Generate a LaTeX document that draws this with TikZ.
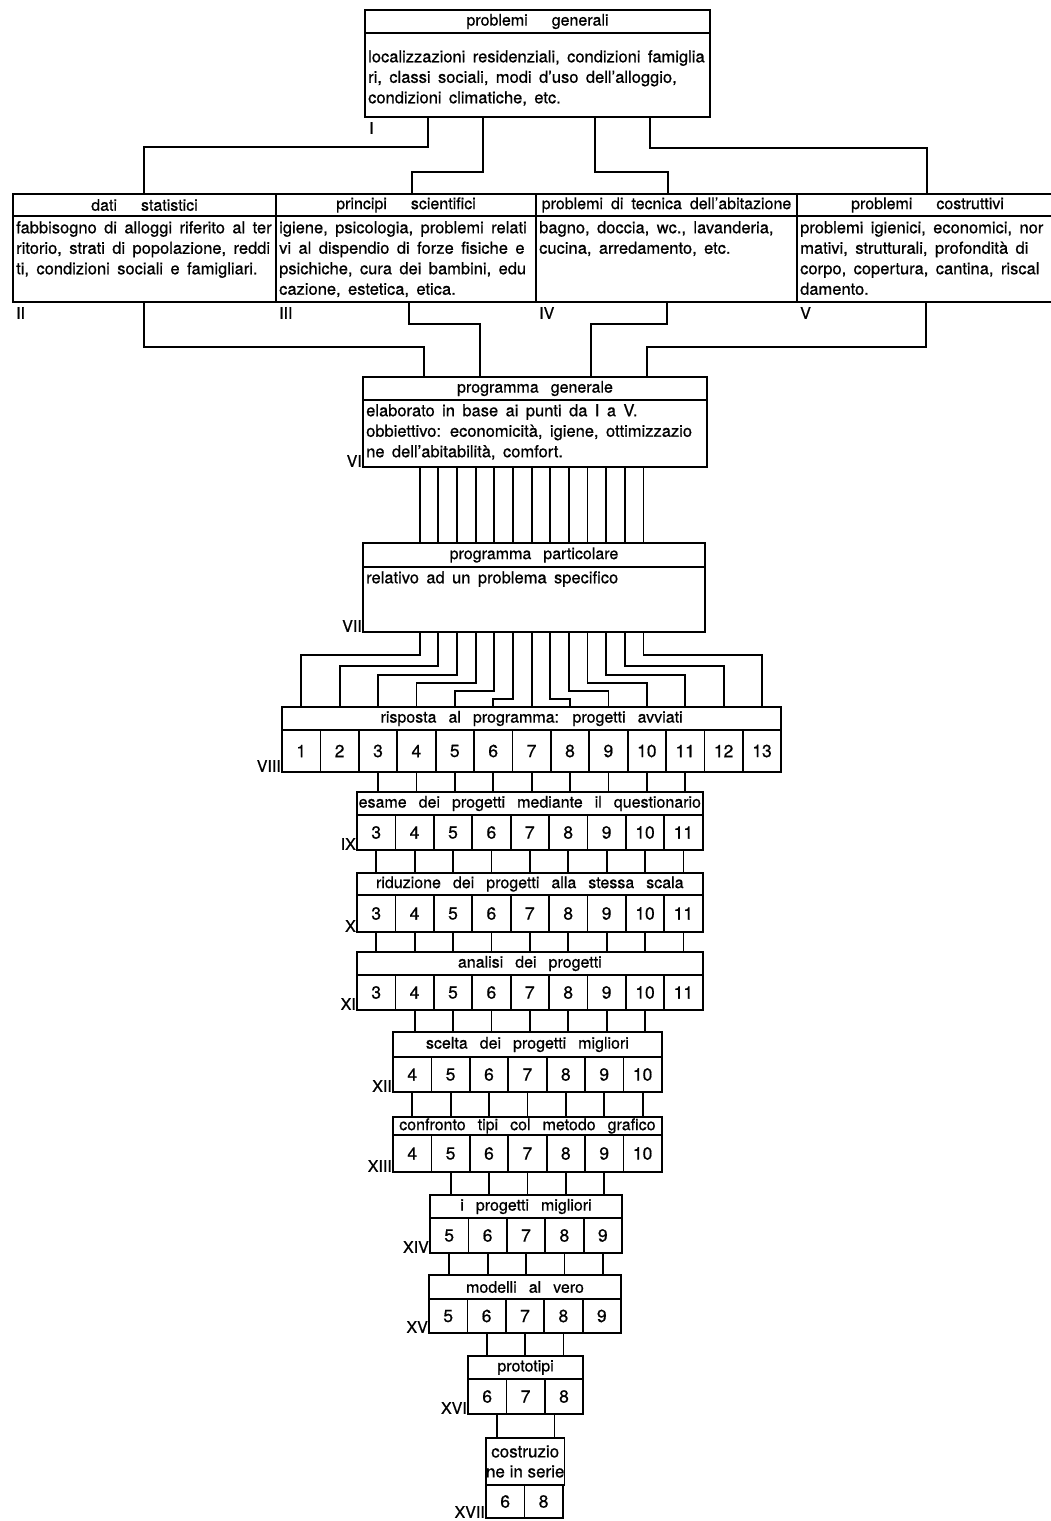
\documentclass[tikz,border=0pt]{standalone}
\usepackage{fontspec}
\setmainfont{TeX Gyre Heros}[FakeBold=0.7]
\usetikzlibrary{calc}

\newcommand{\txtfnt}{\fontsize{16.5}{20.5}\selectfont\spaceskip=0.45em plus 0.1em\relax}
\newcommand{\hdfnt}{\fontsize{16}{18}\selectfont\spaceskip=0.75em\relax}
\newcommand{\nrfnt}{\fontsize{17.5}{19}\selectfont}
\newcommand{\lblfnt}{\fontsize{16}{18}\selectfont}
\newcommand{\wgap}{\hspace{1.5em}}

\begin{document}
\begin{tikzpicture}[x=1pt, y=-1pt,
    box/.style={draw, line width=1.8pt, anchor=north west, inner sep=0pt, outer sep=0pt},
    hd/.style={box, font=\hdfnt},
    cell/.style={box, minimum width=38.4pt, font=\nrfnt},
    txt/.style={anchor=north west, align=left, inner sep=0pt, font=\txtfnt},
    ln/.style={line width=1.8pt},
    lbl/.style={font=\lblfnt, inner sep=0pt}
]
\clip (0,0) rectangle (1051,1521);

% I
\node[hd, minimum width=345pt, minimum height=23pt] (gen-h) at (365,10) {problemi\wgap generali};
\node[box, minimum width=345pt, minimum height=84pt] (gen) at (gen-h.south west) {};
\node[txt] (gen-t) at ($(gen.north west)+(3,17)$) {localizzazioni residenziali, condizioni famiglia\\ri, classi sociali, modi d'uso dell'alloggio,\\condizioni climatiche, etc.};
\node[lbl, anchor=north west] (l1) at ($(gen.south west)+(4,5)$) {I};

% II - V
\node[hd, minimum width=263pt, minimum height=22pt] (dat-h) at (13,194) {dati\wgap statistici};
\node[box, minimum width=263pt, minimum height=86pt] (dat) at (dat-h.south west) {};
\node[txt] (dat-t) at ($(dat.north west)+(3,5)$) {fabbisogno di alloggi riferito al ter\\ritorio, strati di popolazione, reddi\\ti, condizioni sociali e famigliari.};
\node[lbl, anchor=north west] (l2) at ($(dat.south west)+(3,5)$) {II};

\node[hd, minimum width=260pt, minimum height=22pt] (sci-h) at (276,194) {principi\wgap scientifici};
\node[box, minimum width=260pt, minimum height=86pt] (sci) at (sci-h.south west) {};
\node[txt] (sci-t) at ($(sci.north west)+(3,5)$) {igiene, psicologia, problemi relati\\vi al dispendio di forze fisiche e\\psichiche, cura dei bambini, edu\\cazione, estetica, etica.};
\node[lbl, anchor=north west] (l3) at ($(sci.south west)+(3,5)$) {III};

\node[hd, minimum width=261pt, minimum height=22pt] (tec-h) at (536,194) {\spaceskip=0.5em problemi di tecnica dell'abitazione};
\node[box, minimum width=261pt, minimum height=86pt] (tec) at (tec-h.south west) {};
\node[txt] (tec-t) at ($(tec.north west)+(3,5)$) {bagno, doccia, wc., lavanderia,\\cucina, arredamento, etc.};
\node[lbl, anchor=north west] (l4) at ($(tec.south west)+(3,5)$) {IV};

\node[hd, minimum width=261pt, minimum height=22pt] (cos-h) at (797,194) {problemi\wgap costruttivi};
\node[box, minimum width=261pt, minimum height=86pt] (cos) at (cos-h.south west) {};
\node[txt] (cos-t) at ($(cos.north west)+(3,5)$) {problemi igienici, economici, nor\\mativi, strutturali, profondità di\\corpo, copertura, cantina, riscal\\damento.};
\node[lbl, anchor=north west] (l5) at ($(cos.south west)+(3,5)$) {V};

\draw[ln] (gen.south -| 428,0) |- (144,147) -- (dat-h.north -| 144,0);
\draw[ln] (gen.south -| 483,0) |- (412,172) -- (sci-h.north -| 412,0);
\draw[ln] (gen.south -| 595,0) |- (668,172) -- (tec-h.north -| 668,0);
\draw[ln] (gen.south -| 650,0) |- (927,148) -- (cos-h.north -| 927,0);

% VI
\node[hd, minimum width=344pt, minimum height=23pt] (pgen-h) at (363,377) {programma generale};
\node[box, minimum width=344pt, minimum height=67pt] (pgen) at (pgen-h.south west) {};
\node[txt] (pgen-t) at ($(pgen.north west)+(3,4)$) {elaborato in base ai punti da I a V.\\obbiettivo: economicità, igiene, ottimizzazio\\ne dell'abitabilità, comfort.};
\node[lbl, anchor=south east] (l6) at ($(pgen.south west)+(-1,0)$) {VI};

\draw[ln] (dat.south -| 144,0) |- (424,347) -- (pgen-h.north -| 424,0);
\draw[ln] (sci.south -| 409,0) |- (480,324) -- (pgen-h.north -| 480,0);
\draw[ln] (tec.south -| 667,0) |- (591,324) -- (pgen-h.north -| 591,0);
\draw[ln] (cos.south -| 926,0) |- (647,347) -- (pgen-h.north -| 647,0);

% VII
\node[hd, minimum width=342pt, minimum height=24pt] (ppar-h) at (363,543) {programma particolare};
\node[box, minimum width=342pt, minimum height=65pt] (ppar) at (ppar-h.south west) {};
\node[txt] (ppar-t) at ($(ppar.north west)+(3,4)$) {relativo ad un problema specifico};
\node[lbl, anchor=south east] (l7) at ($(ppar.south west)+(-1,0)$) {VII};

\foreach \k in {1,...,13}
  \coordinate (t\k) at ({531.6+(\k-7)*18.65},0);
\foreach \k in {1,...,13}
  \draw[ln] (t\k |- pgen.south) -- (t\k |- ppar-h.north);

% VIII
\node[hd, minimum width=499.2pt, minimum height=23pt] (h8) at (282,707) {risposta al programma: progetti avviati};
\foreach \k [count=\i from 0] in {1,...,13}
  \node[cell, minimum height=42pt] (c8-\k) at ({282+\i*38.4},730) {\k};
\node[lbl, anchor=south east] (l8) at ($(c8-1.south west)+(-1,0)$) {VIII};

\foreach \k/\lev in {1/655,2/666,3/675,4/683,5/691,6/699,7/699,8/699,9/691,10/683,11/675,12/666,13/655}
  \draw[ln] (t\k |- ppar.south) -- (t\k |- 0,\lev) -| (c8-\k |- h8.north);

% IX
\node[hd, minimum width=345.6pt, minimum height=23pt] (h9) at (357,792) {esame dei progetti mediante il questionario};
\foreach \k [count=\i from 0] in {3,...,11}
  \node[cell, minimum height=35pt] (c9-\k) at ({357+\i*38.4},815) {\k};
\node[lbl, anchor=south east] (l9) at ($(c9-3.south west)+(-1,0)$) {IX};
\foreach \k in {3,...,11}
  \draw[ln] (c8-\k.south) -- (c8-\k.south |- h9.north);

% X
\node[hd, minimum width=345.6pt, minimum height=22pt] (h10) at (357,873) {riduzione dei progetti alla stessa scala};
\foreach \k [count=\i from 0] in {3,...,11}
  \node[cell, minimum height=37pt] (c10-\k) at ({357+\i*38.4},895) {\k};
\node[lbl, anchor=south east] (l10) at ($(c10-3.south west)+(-1,0)$) {X};
\foreach \k in {3,...,11}
  \draw[ln] (c9-\k.south) -- (c9-\k.south |- h10.north);

% XI
\node[hd, minimum width=345.6pt, minimum height=23pt] (h11) at (357,952) {analisi dei progetti};
\foreach \k [count=\i from 0] in {3,...,11}
  \node[cell, minimum height=35pt] (c11-\k) at ({357+\i*38.4},975) {\k};
\node[lbl, anchor=south east] (l11) at ($(c11-3.south west)+(-1,0)$) {XI};
\foreach \k in {3,...,11}
  \draw[ln] (c10-\k.south) -- (c10-\k.south |- h11.north);

% XII
\node[hd, minimum width=268.8pt, minimum height=25pt] (h12) at (393,1032) {scelta dei progetti migliori};
\foreach \k [count=\i from 0] in {4,...,10}
  \node[cell, minimum height=35pt] (c12-\k) at ({393+\i*38.4},1057) {\k};
\node[lbl, anchor=south east] (l12) at ($(c12-4.south west)+(-1,0)$) {XII};
\foreach \k in {4,...,10}
  \draw[ln] (c11-\k.south) -- (c11-\k.south |- h12.north);

% XIII
\node[hd, minimum width=268.8pt, minimum height=18pt] (h13) at (393,1117) {confronto tipi col metodo grafico};
\foreach \k [count=\i from 0] in {4,...,10}
  \node[cell, minimum height=37pt] (c13-\k) at ({393+\i*38.4},1135) {\k};
\node[lbl, anchor=south east] (l13) at ($(c13-4.south west)+(-1,0)$) {XIII};
\foreach \k in {4,...,10}
  \draw[ln] (c12-\k.south) -- (c12-\k.south |- h13.north);

% XIV
\node[hd, minimum width=192pt, minimum height=23pt] (h14) at (430,1195) {i progetti migliori};
\foreach \k [count=\i from 0] in {5,...,9}
  \node[cell, minimum height=35pt] (c14-\k) at ({430+\i*38.4},1218) {\k};
\node[lbl, anchor=south east] (l14) at ($(c14-5.south west)+(-1,0)$) {XIV};
\foreach \k in {5,...,9}
  \draw[ln] (c13-\k.south) -- (c13-\k.south |- h14.north);

% XV
\node[hd, minimum width=192pt, minimum height=24pt] (h15) at (429,1275) {modelli al vero};
\foreach \k [count=\i from 0] in {5,...,9}
  \node[cell, minimum height=34pt] (c15-\k) at ({429+\i*38.4},1299) {\k};
\node[lbl, anchor=south east] (l15) at ($(c15-5.south west)+(-1,0)$) {XV};
\foreach \k in {5,...,9}
  \draw[ln] (c14-\k.south) -- (c14-\k.south |- h15.north);

% XVI
\node[hd, minimum width=115.2pt, minimum height=23pt] (h16) at (468,1356) {prototipi};
\foreach \k [count=\i from 0] in {6,...,8}
  \node[cell, minimum height=35pt] (c16-\k) at ({468+\i*38.4},1379) {\k};
\node[lbl, anchor=south east] (l16) at ($(c16-6.south west)+(-1,0)$) {XVI};
\foreach \k in {6,...,8}
  \draw[ln] (c15-\k.south) -- (c15-\k.south |- h16.north);

% XVII
\node[hd, minimum width=76.8pt, minimum height=47pt, align=center, font=\fontsize{17}{20}\selectfont] (h17) at (486,1438) {costruzio\\ne in serie};
\node[cell, minimum height=33pt] (c17-6) at (486,1485) {6};
\node[cell, minimum height=33pt] (c17-8) at (c17-6.north east) {8};
\node[lbl, anchor=south east] (l17) at ($(c17-6.south west)+(-1,0)$) {XVII};
\coordinate (q1) at ($(c16-6.south)!0.5!(c16-6.south east)$);
\coordinate (q2) at ($(c16-8.south)!0.5!(c16-8.south west)$);
\draw[ln] (q1) -- (q1 |- h17.north);
\draw[ln] (q2) -- (q2 |- h17.north);
\end{tikzpicture}
\end{document}
